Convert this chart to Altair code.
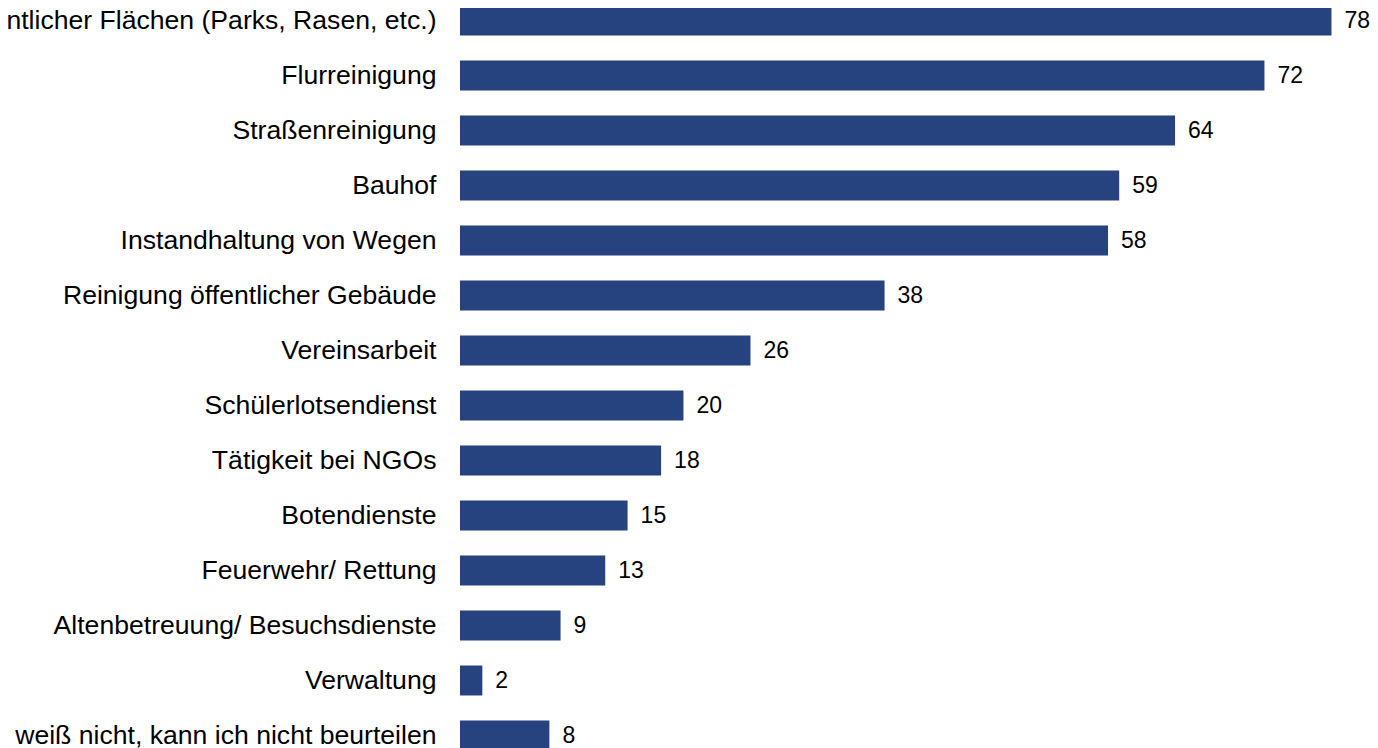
import altair as alt
import pandas as pd

categories = [
    "Pflege öffentlicher Flächen (Parks, Rasen, etc.)",
    "Flurreinigung",
    "Straßenreinigung",
    "Bauhof",
    "Instandhaltung von Wegen",
    "Reinigung öffentlicher Gebäude",
    "Vereinsarbeit",
    "Schülerlotsendienst",
    "Tätigkeit bei NGOs",
    "Botendienste",
    "Feuerwehr/ Rettung",
    "Altenbetreuung/ Besuchsdienste",
    "Verwaltung",
    "weiß nicht, kann ich nicht beurteilen",
]
values = [78, 72, 64, 59, 58, 38, 26, 20, 18, 15, 13, 9, 2, 8]

df = pd.DataFrame({"cat": categories, "val": values})

y = alt.Y("cat:N", sort=categories, title=None,
          scale=alt.Scale(paddingInner=0.455, paddingOuter=0.2275),
          axis=alt.Axis(ticks=False, domain=False, labelFontSize=26.6,
                        labelFont="Liberation Sans", labelColor="#000000",
                        labelPadding=24, labelLimit=1000))
x = alt.X("val:Q", title=None, scale=alt.Scale(domain=[0, 81]), axis=None)

bars = alt.Chart(df).mark_bar(color="#27437F").encode(x=x, y=y)
text = alt.Chart(df).mark_text(align="left", baseline="middle", dx=13,
                               fontSize=23, font="Liberation Sans",
                               color="#000000").encode(x=x, y=y, text="val:Q")

chart = (bars + text).properties(
    width=905, height=770,
    autosize=alt.AutoSizeParams(type="none"),
    padding={"left": 452, "top": -15, "right": 5, "bottom": 0},
).configure_view(stroke=None)

chart.save("out.html", embed_options={"renderer": "svg", "actions": False})
